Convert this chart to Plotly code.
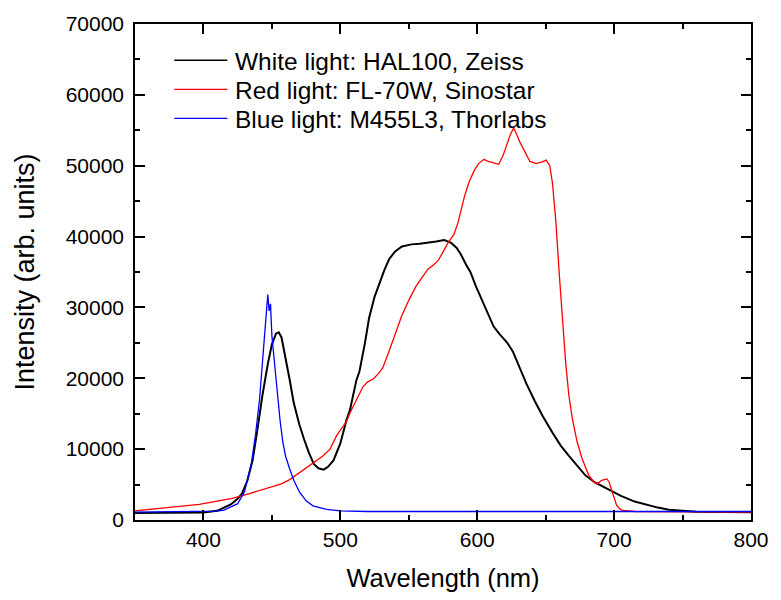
import plotly.graph_objects as go

# White light: HAL100, Zeiss
white_wl = [350, 380, 400, 410, 415, 420, 425, 428, 432, 436, 440, 443, 447, 450, 453, 455, 457,
            460, 463, 466, 470, 473.5, 477, 480.6, 484, 487.8, 491, 495, 500, 504.5, 507, 511.7,
            514, 518, 521, 525, 528.4, 532, 535.6, 540, 545, 552, 558, 564, 570, 576, 581, 585,
            588, 592, 595, 599, 603, 607, 610, 612, 616, 619, 622, 626, 630, 636, 642, 648, 655,
            661, 667, 673, 679, 686, 692, 698, 705, 715, 724, 732, 740, 746, 760, 800]
white_int = [1000, 1000, 1050, 1300, 1700, 2200, 3000, 3700, 5500, 8500, 13500, 17500, 22000, 24800,
             26300, 26500, 25800, 23000, 19800, 16500, 13500, 11400, 9500, 7900, 7300, 7100, 7500,
             8400, 10800, 14100, 15500, 19700, 21000, 25000, 28500, 31500, 33300, 35200, 36800,
             37900, 38600, 38900, 39000, 39100, 39300, 39500, 39100, 38400, 37500, 36000, 35000,
             33000, 31300, 29400, 28300, 27300, 26300, 25700, 25000, 23800, 22000, 19200, 16800,
             14600, 12300, 10500, 9050, 7600, 6300, 5300, 4700, 4200, 3400, 2600, 2100, 1750, 1450,
             1350, 1150, 1100]

# Red light: FL-70W, Sinostar
red_wl = [350, 360, 373, 385, 397, 405, 413, 421, 433, 445, 457, 463, 469, 475, 481, 487, 492.5,
          497, 500, 504.5, 507, 512, 516.5, 520, 524, 528, 531, 535, 538, 542, 545, 550, 555, 560,
          564, 568, 571.4, 575, 578.6, 583, 586, 590.6, 594, 597.8, 601, 605, 608, 612, 615.7, 619,
          621.7, 624, 626.5, 628, 631, 635, 638.5, 643, 647, 650.4, 653, 655, 657.5, 660, 662.3,
          664.7, 667, 669.5, 673, 676.7, 681.5, 685, 687.5, 691, 694.7, 696.5, 698.2, 700, 701.8,
          704, 706, 715, 800]
red_int = [1300, 1500, 1750, 2000, 2200, 2500, 2800, 3050, 3700, 4400, 5100, 5700, 6500, 7300, 8100,
           9000, 10000, 11800, 12700, 13900, 15100, 17000, 18800, 19500, 19900, 20700, 21500, 23500,
           25200, 27300, 28900, 31000, 32900, 34300, 35400, 36000, 36600, 37800, 39100, 40300, 42000,
           45600, 47700, 49300, 50300, 50900, 50600, 50400, 50200, 51500, 53000, 54300, 55300, 54800,
           53400, 51800, 50600, 50300, 50500, 50800, 50000, 47500, 42000, 34500, 28500, 22000, 17500,
           14300, 11000, 8600, 6300, 5400, 5100, 5600, 5800, 5300, 4200, 3000, 2100, 1600, 1350,
           1200, 1100]

# Blue light: M455L3, Thorlabs
blue_wl = [350, 400, 410, 415, 420, 425, 430, 435, 438, 441, 443, 445, 446, 447, 448, 449, 450, 452,
           454, 456, 458, 460, 463, 466, 470, 475, 480, 490, 500, 520, 800]
blue_int = [1100, 1150, 1250, 1400, 1800, 2300, 4000, 8000, 12000, 17000, 22000, 27000, 30000, 31800,
            29500, 30500, 26000, 22000, 17500, 14000, 11000, 9000, 7200, 5600, 4000, 2700, 2000, 1500,
            1300, 1200, 1200]

names = ["White light: HAL100, Zeiss", "Red light: FL-70W, Sinostar", "Blue light: M455L3, Thorlabs"]
colors = ["black", "red", "blue"]
widths = [2, 1.3, 1.3]

FONT = "Liberation Sans, Arial, sans-serif"
W, H = 781, 600
ML, MR, MT, MB = 135, 19, 17, 78
PW, PH = W - ML - MR, H - MT - MB

fig = go.Figure()
for wl, it, nm, c, w in zip([white_wl, red_wl, blue_wl], [white_int, red_int, blue_int],
                            names, colors, widths):
    fig.add_trace(go.Scatter(x=wl, y=it, mode="lines", name=nm,
                             line=dict(color=c, width=w), showlegend=False))

# manual legend (pixel-placed in paper coordinates)
def px_x(px):
    return (px - ML) / PW

def px_y(py):
    return (H - MB - py) / PH

leg_rows = [54, 83.5, 113]
for nm, c, w, ry in zip(names, colors, widths, leg_rows):
    fig.add_shape(type="line", xref="paper", yref="paper",
                  x0=px_x(175), x1=px_x(229), y0=px_y(ry), y1=px_y(ry),
                  line=dict(color=c, width=1.5 if c == "black" else 1.3))
    fig.add_annotation(xref="paper", yref="paper", x=px_x(235), y=px_y(ry + 1),
                       xanchor="left", yanchor="middle", text=nm, showarrow=False,
                       font=dict(family=FONT, size=24.5, color="black"))

axis_common = dict(
    showline=True, linecolor="black", linewidth=1.5, mirror="allticks",
    ticks="inside", ticklen=10, tickwidth=1.5, tickcolor="black",
    showgrid=False, zeroline=False,
    tickfont=dict(family=FONT, size=21, color="black"),
)

fig.update_xaxes(
    range=[350, 800], dtick=100, tick0=0,
    minor=dict(ticks="inside", dtick=50, ticklen=5, tickwidth=1.5, tickcolor="black", showgrid=False),
    title=dict(text="Wavelength (nm)", font=dict(family=FONT, size=25.5, color="black"), standoff=19),
    **axis_common,
)
fig.update_yaxes(
    range=[0, 70000], dtick=10000, tick0=0, tickformat="d", ticklabelstandoff=5,
    minor=dict(ticks="inside", dtick=5000, ticklen=5, tickwidth=1.5, tickcolor="black", showgrid=False),
    title=dict(text="Intensity (arb. units)", font=dict(family=FONT, size=27, color="black"), standoff=23),
    **axis_common,
)

fig.update_layout(
    width=W, height=H,
    margin=dict(l=ML, r=MR, t=MT, b=MB),
    paper_bgcolor="white", plot_bgcolor="white",
    font=dict(family=FONT, color="black"),
    showlegend=False,
)

fig.write_html("out.html")
